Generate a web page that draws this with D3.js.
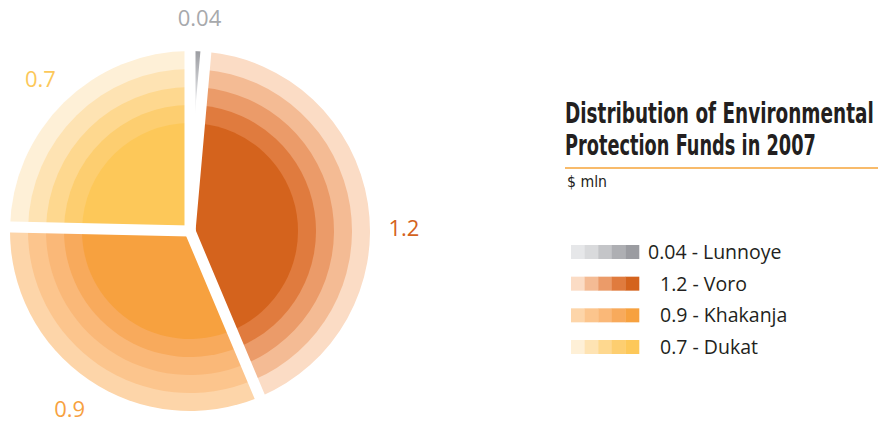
<!DOCTYPE html>
<html>
<head>
<meta charset="utf-8">
<script src="https://cdn.jsdelivr.net/npm/d3@7"></script>
<style>
  html, body { margin: 0; padding: 0; background: #ffffff; }
  svg { display: block; }
</style>
</head>
<body>
<svg id="chart" width="878" height="424"></svg>
<script>
// Environmental protection funds, 2007 ($ mln)
const regions = ["Lunnoye", "Voro", "Khakanja", "Dukat"];
const funds = [0.04, 1.2, 0.9, 0.7];
const valueLabels = ["0.04", "1.2", "0.9", "0.7"];

// Five shades per region, lightest (outer ring) to darkest (core)
const shadesLunnoye = ["#e6e7e9", "#d9dadc", "#c4c5c8", "#aeafb3", "#9b9ca1"];
const shadesVoro = ["#fbdcc5", "#f4bb94", "#eb9b69", "#e07b3e", "#d4631d"];
const shadesKhakanja = ["#fdd5a9", "#fcc58d", "#fab878", "#f8aa5c", "#f7a13f"];
const shadesDukat = ["#fef0d7", "#fee3b3", "#fed88f", "#fdce70", "#fdc859"];
const shades = [shadesLunnoye, shadesVoro, shadesKhakanja, shadesDukat];
const labelColors = ["#a7a9ac", "#d4631d", "#f7a13f", "#fcc85a"];

const title = ["Distribution of Environmental", "Protection Funds in 2007"];
const unit = "$ mln";

const svg = d3.select("#chart");
const cx = 190, cy = 231, R = 180;
const gapWidth = 11;

const pie = d3.pie().sort(null).value(d => d)(funds);

// ring radii: each band steps 10% of the full radius, core at 60%
const ringScale = d3.scaleLinear().domain([0, 4]).range([R, 0.6 * R]);

const defs = svg.append("defs");
// the thin grey wedge fades toward the centre
const grad = defs.append("linearGradient")
  .attr("id", "greyFade").attr("gradientUnits", "userSpaceOnUse")
  .attr("x1", 0).attr("y1", -R).attr("x2", 0).attr("y2", -0.72 * R);
grad.append("stop").attr("offset", 0).attr("stop-color", shadesLunnoye[4]);
grad.append("stop").attr("offset", 1).attr("stop-color", shadesLunnoye[0]);

const g = svg.append("g").attr("transform", `translate(${cx},${cy})`);

pie.forEach((slice, i) => {
  const sg = g.append("g");
  d3.range(5).forEach(k => {
    const arc = d3.arc()
      .innerRadius(0)
      .outerRadius(ringScale(k))
      .startAngle(slice.startAngle)
      .endAngle(slice.endAngle);
    sg.append("path")
      .attr("d", arc())
      .attr("fill", i === 0 ? "url(#greyFade)" : shades[i][k]);
  });
});

// white separators between slices
const boundaries = pie.map(s => s.startAngle);
g.selectAll("line.sep")
  .data(boundaries)
  .join("line")
  .attr("class", "sep")
  .attr("x1", 0).attr("y1", 0)
  .attr("x2", a => Math.sin(a) * (R + 10))
  .attr("y2", a => -Math.cos(a) * (R + 10))
  .attr("stroke", "#ffffff")
  .attr("stroke-width", gapWidth)
  .attr("stroke-linecap", "round");

// value labels outside each slice
const labelR = 214;
g.selectAll("text.val")
  .data(pie)
  .join("text")
  .attr("class", "val")
  .each(function (d) {
    let a = (d.startAngle + d.endAngle) / 2;
    // a slice spanning the 3 o'clock direction is labelled there
    if (d.startAngle < Math.PI / 2 && d.endAngle > Math.PI / 2) a = Math.PI / 2 - 0.02;
    d3.select(this)
      .attr("x", Math.sin(a) * labelR)
      .attr("y", -Math.cos(a) * labelR);
  })
  .attr("text-anchor", "middle")
  .attr("dominant-baseline", "central")
  .attr("font-family", "'Open Sans', 'Noto Sans', sans-serif")
  .attr("font-size", 22)
  .attr("fill", (d, i) => labelColors[i])
  .text((d, i) => valueLabels[i]);

// condensed heading: fit the natural width, then stretch vertically
const condensedFont = "'DejaVu Sans Condensed', 'DejaVu Sans', sans-serif";
function condensedText(parent, str, x, y, width, size, weight) {
  const t = parent.append("text")
    .attr("font-family", condensedFont)
    .attr("font-stretch", "condensed")
    .attr("font-weight", weight)
    .attr("font-size", size)
    .attr("fill", "#231f20")
    .text(str);
  const natural = t.node().getComputedTextLength();
  const fs = size * width / natural;
  t.attr("font-size", fs)
    .attr("transform", `translate(${x},${y}) scale(1,${size / fs})`);
  return t;
}

const tx = 565;
const titleLengths = [309, 251];
title.forEach((line, i) => {
  condensedText(svg, line, tx, 123 + i * 32, titleLengths[i], 28, "bold");
});

svg.append("line")
  .attr("x1", tx).attr("x2", 878)
  .attr("y1", 168).attr("y2", 168)
  .attr("stroke", "#f6a53a")
  .attr("stroke-width", 1.5);

condensedText(svg, unit, 567, 187, 40, 15, "normal");

// legend: five-step swatch strip plus value and name
const legendY = d3.scalePoint().domain(regions).range([259, 354]);
const swatchX = d3.scaleLinear().domain([0, 5]).range([571, 639]);
const legend = svg.append("g");
regions.forEach((name, i) => {
  const y = legendY(name);
  const row = legend.append("g");
  // legend strip runs light to dark from left to right
  row.selectAll("rect")
    .data(shades[i])
    .join("rect")
    .attr("x", (c, k) => swatchX(k))
    .attr("y", y - 14)
    .attr("width", swatchX(1) - swatchX(0) + 0.3)
    .attr("height", 14)
    .attr("fill", c => c);
  const longValue = valueLabels[i].length > 3;
  row.append("text")
    .attr("x", longValue ? 648 : 660)
    .attr("y", y)
    .attr("font-family", "'Open Sans', 'Noto Sans', sans-serif")
    .attr("font-size", 19.5)
    .attr("fill", "#231f20")
    .text(`${valueLabels[i]} - ${name}`);
});
</script>
</body>
</html>
